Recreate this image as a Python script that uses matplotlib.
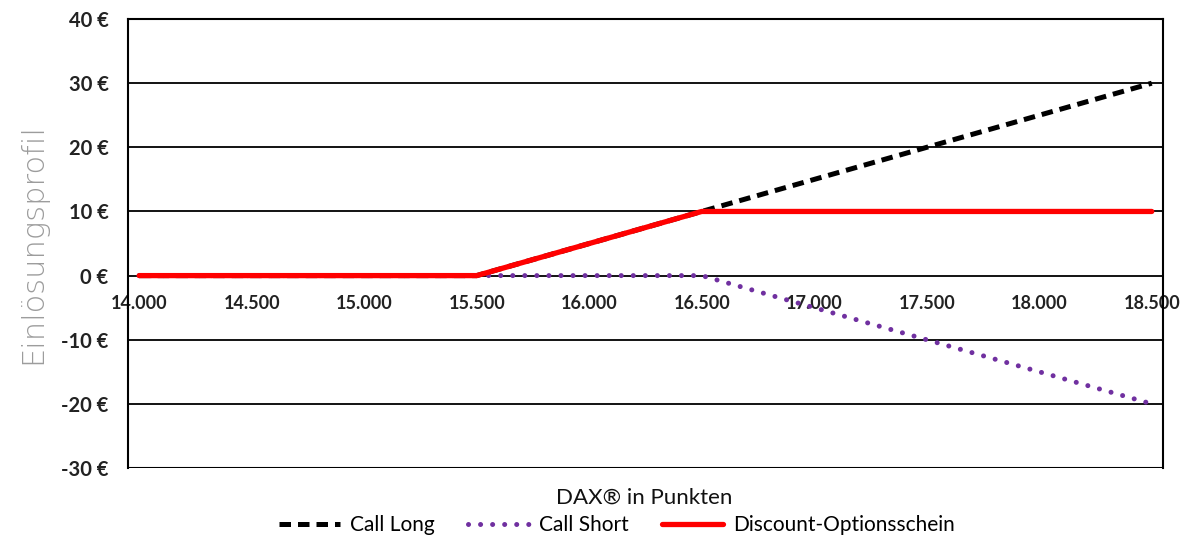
import matplotlib
matplotlib.use("Agg")
import matplotlib.pyplot as plt
from matplotlib.ticker import FuncFormatter

# ---------------------------------------------------------
# DATA
# ---------------------------------------------------------
dax_points = [14000, 14500, 15000, 15500, 16000, 16500, 17000, 17500, 18000, 18500]
call_long = [0, 0, 0, 0, 5, 10, 15, 20, 25, 30]
call_short = [0, 0, 0, 0, 0, 0, -5, -10, -15, -20]
discount = [0, 0, 0, 0, 5, 10, 10, 10, 10, 10]

y_ticks = [-30, -20, -10, 0, 10, 20, 30, 40]

font = "Lato"

# ---------------------------------------------------------
# PLOT
# ---------------------------------------------------------
fig = plt.figure(figsize=(11.98, 5.37), dpi=100)
ax = fig.add_axes([0.1068, 0.1285, 0.864, 0.836])

ax.plot(dax_points, call_long, color="black", lw=3.6, ls=(0, (2.3, 1.4)),
        label="Call Long", zorder=3, dash_capstyle="butt")
ax.plot(dax_points, call_short, color="#7030A0", lw=3.6, ls=(0, (0.01, 2.4)),
        dash_capstyle="round", label="Call Short", zorder=4)
ax.plot(dax_points, discount, color="#FF0000", lw=3.8, label="Discount-Optionsschein",
        zorder=5, solid_capstyle="round")

ax.set_xlim(13950, 18550)
ax.set_ylim(-30, 40)
ax.set_yticks(y_ticks)
ax.yaxis.set_major_formatter(FuncFormatter(lambda v, p: f"{int(v)} €"))
ax.set_xticks(dax_points)
ax.set_xticklabels([f"{x:,}".replace(",", ".") for x in dax_points])

ax.grid(axis="y", color="black", lw=1.3)
ax.set_axisbelow(True)

# x axis crosses at 0
ax.spines["bottom"].set_position(("data", 0))
ax.spines["bottom"].set_visible(False)
for s in ["left", "right", "top"]:
    ax.spines[s].set_linewidth(1.5)
ax.axhline(-30, color="black", lw=1.5, zorder=2)

ax.tick_params(axis="x", length=0, pad=14, labelsize=13, labelcolor="#222222")
ax.tick_params(axis="y", length=0, pad=14, labelsize=14.5, labelcolor="#222222")
for lab in ax.get_xticklabels() + ax.get_yticklabels():
    lab.set_fontfamily(font)
    lab.set_fontweight("bold")

ax.set_ylabel("Einlösungsprofil", fontsize=22, color="#9c9c9c", family="DejaVu Sans",
              fontweight="light", labelpad=10)

fig.text(0.538, 0.074, "DAX® in Punkten", ha="center", va="center",
         fontsize=16, family=font, color="#111111")

leg = fig.legend(loc="center", bbox_to_anchor=(0.515, 0.022), ncol=3, frameon=False,
                 prop={"family": font, "size": 15}, handlelength=2.9,
                 columnspacing=1.6, handletextpad=0.5)

plt.savefig("out.png", dpi=100)
